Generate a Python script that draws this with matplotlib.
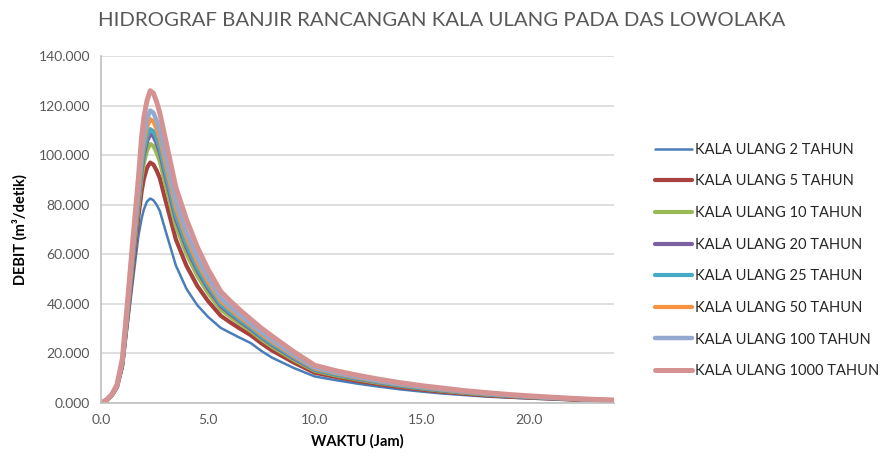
import matplotlib.pyplot as plt
from matplotlib.ticker import FormatStrFormatter

plt.rcParams['font.family'] = ['Lato', 'DejaVu Sans']

# waktu (jam)
waktu = [0, 0.25, 0.5, 0.75, 1.0, 1.25, 1.5, 1.75, 1.9, 2.0, 2.15, 2.3, 2.45, 2.6, 2.75,
         3.0, 3.5, 4.0, 4.5, 5.0, 5.6, 6.0, 6.5, 7.0, 7.5, 8.0, 9.0, 10, 11, 12, 13, 14, 15,
         16, 17, 18, 19, 20, 21, 22, 23, 24]

# debit (m3/detik) tiap kala ulang
q2 = [0, 1.0, 2.8, 6.0, 14.0, 32.0, 50.0, 67.5, 74.5, 78.0, 81.3, 82.5, 81.8, 80.0, 77.5,
      70.0, 55.5, 46.0, 39.5, 34.8, 30.3, 28.5, 26.3, 24.2, 21.0, 18.3, 14.2, 10.7, 9.2, 7.8, 6.6, 5.5, 4.6,
      3.8, 3.2, 2.6, 2.2, 1.8, 1.5, 1.2, 1.0, 0.8]
q5 = [0, 1.1, 3.0, 6.5, 15.3, 35.3, 55.7, 75.3, 85.5, 90.3, 94.9, 97.0, 96.2, 93.8, 90.7,
      82.3, 66.0, 55.3, 47.3, 41.2, 35.2, 32.8, 30.0, 27.4, 24.1, 21.2, 16.4, 12.2, 10.5, 8.9, 7.6, 6.4, 5.4,
      4.5, 3.8, 3.1, 2.6, 2.2, 1.8, 1.4, 1.2, 0.9]
q10 = [0, 1.1, 3.1, 6.8, 16.0, 37.1, 58.6, 79.4, 91.2, 96.7, 101.9, 104.5, 103.7, 101.0, 97.5,
       88.7, 71.4, 60.2, 51.4, 44.5, 37.7, 35.1, 32.0, 29.1, 25.7, 22.7, 17.5, 13.0, 11.1, 9.5, 8.1, 6.9, 5.8,
       4.9, 4.1, 3.4, 2.9, 2.4, 2.0, 1.6, 1.3, 1.0]
q20 = [0, 1.1, 3.2, 6.9, 16.4, 38.0, 60.2, 81.6, 94.2, 100.1, 105.6, 108.5, 107.6, 104.8, 101.1,
       92.1, 74.3, 62.7, 53.6, 46.3, 39.1, 36.3, 33.0, 29.9, 26.5, 23.5, 18.1, 13.4, 11.5, 9.8, 8.4, 7.1, 6.0,
       5.1, 4.3, 3.6, 3.0, 2.5, 2.0, 1.6, 1.3, 1.0]
q25 = [0, 1.1, 3.2, 7.0, 16.6, 38.4, 60.9, 82.6, 95.8, 101.8, 107.5, 110.5, 109.6, 106.7, 102.9,
       93.8, 75.8, 64.0, 54.6, 47.2, 39.8, 36.9, 33.5, 30.4, 26.9, 23.9, 18.5, 13.6, 11.6, 10.0, 8.5, 7.2, 6.1,
       5.2, 4.4, 3.6, 3.0, 2.5, 2.1, 1.7, 1.3, 1.1]
q50 = [0, 1.1, 3.2, 7.1, 16.9, 39.4, 62.5, 84.8, 98.8, 105.2, 111.3, 114.5, 113.6, 110.5, 106.6,
       97.2, 78.7, 66.6, 56.8, 48.9, 41.1, 38.1, 34.5, 31.3, 27.8, 24.7, 19.1, 14.0, 12.0, 10.3, 8.8, 7.5, 6.4,
       5.4, 4.5, 3.8, 3.2, 2.6, 2.2, 1.7, 1.4, 1.1]
q100 = [0, 1.2, 3.3, 7.2, 17.3, 40.2, 63.9, 86.7, 101.4, 108.2, 114.5, 118.0, 117.1, 113.9, 109.7,
        100.2, 81.2, 68.8, 58.7, 50.5, 42.3, 39.1, 35.4, 32.0, 28.5, 25.4, 19.6, 14.4, 12.3, 10.6, 9.0, 7.7, 6.6,
        5.6, 4.7, 3.9, 3.3, 2.7, 2.2, 1.8, 1.4, 1.1]
q1000 = [0, 1.2, 3.4, 7.5, 18.0, 42.0, 67.0, 91.0, 107.5, 115.0, 122.0, 126.0, 125.0, 121.5, 117.0,
         107.0, 87.0, 74.0, 63.0, 54.0, 45.0, 41.5, 37.5, 33.8, 30.2, 27.0, 20.8, 15.2, 13.0, 11.2, 9.6, 8.2, 7.0,
         6.0, 5.0, 4.2, 3.5, 2.9, 2.4, 1.9, 1.5, 1.2]

labels = ['KALA ULANG 2 TAHUN', 'KALA ULANG 5 TAHUN', 'KALA ULANG 10 TAHUN',
          'KALA ULANG 20 TAHUN', 'KALA ULANG 25 TAHUN', 'KALA ULANG 50 TAHUN',
          'KALA ULANG 100 TAHUN', 'KALA ULANG 1000 TAHUN']
series = [q2, q5, q10, q20, q25, q50, q100, q1000]
colors = ['#4A7EBB', '#A8403D', '#98B954', '#7D60A0', '#46AAC5', '#F69240', '#93A9D0', '#D49392']
widths = [1.8, 3.0, 3.0, 3.0, 3.0, 3.0, 3.2, 3.6]

fig = plt.figure(figsize=(8.84, 4.59), dpi=100)
ax = fig.add_axes([0.1143, 0.122, 0.5803, 0.756])

for q, lab, c, w in zip(series, labels, colors, widths):
    ax.plot(waktu, q, color=c, linewidth=w, label=lab,
            solid_capstyle='round', solid_joinstyle='round')

ax.set_xlim(0, 24)
ax.set_ylim(0, 140)
ax.set_xticks([0, 5, 10, 15, 20])
ax.set_yticks(range(0, 141, 20))
ax.xaxis.set_major_formatter(FormatStrFormatter('%.1f'))
ax.yaxis.set_major_formatter(FormatStrFormatter('%.3f'))
ax.tick_params(length=0, labelsize=10, labelcolor='#595959', pad=8)
ax.grid(True, axis='y', color='#D9D9D9', linewidth=1.2)
ax.set_axisbelow(True)
for s in ['top', 'right']:
    ax.spines[s].set_visible(False)
for s in ['left', 'bottom']:
    ax.spines[s].set_color('#BFBFBF')
    ax.spines[s].set_linewidth(1.2)

ax.set_xlabel('WAKTU (Jam)', fontsize=10.5, fontweight='bold', labelpad=6)
ax.set_ylabel('DEBIT (m³/detik)', fontsize=10.5, fontweight='bold', labelpad=8)
fig.text(0.5, 0.955, 'HIDROGRAF BANJIR RANCANGAN KALA ULANG PADA DAS LOWOLAKA',
         ha='center', va='center', fontsize=14.7, color='#595959')

fig.legend(loc='upper left', bbox_to_anchor=(0.733, 0.705), frameon=False,
           fontsize=10.5, labelspacing=1.21, handlelength=2.5, handletextpad=0.2,
           borderpad=0, labelcolor='#262626')

plt.savefig('out.png', dpi=100)
